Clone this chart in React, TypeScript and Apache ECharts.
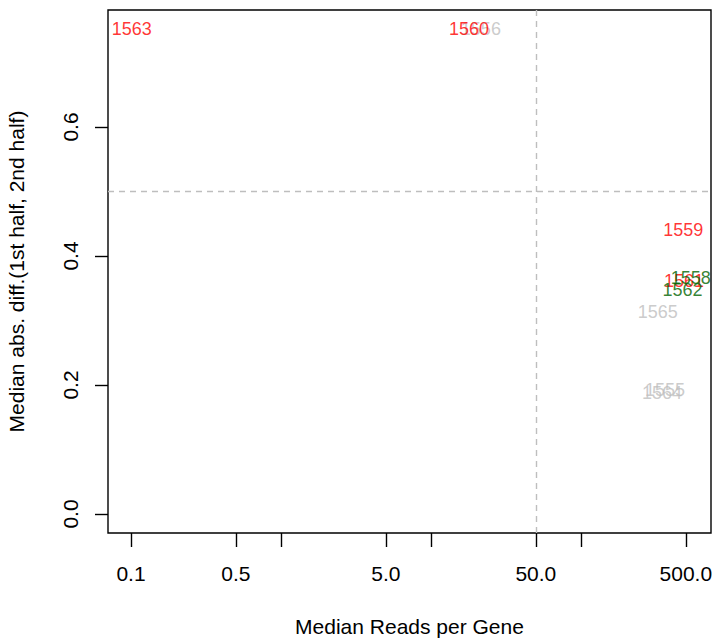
import React, { useEffect, useRef } from "react";
import * as echarts from "echarts";

// Sample ids, in drawing order (grey, then red, then green)
const sampleIds = ["1555", "1556", "1564", "1565", "1559", "1560", "1561", "1563", "1558", "1562"];
// Median reads per gene (x, log scale)
const medianReads = [363, 21.5, 347, 325, 481, 17.9, 486, 0.101, 539, 475];
// Median abs. diff. (1st half, 2nd half)
const medianAbsDiff = [0.192, 0.752, 0.1876, 0.3137, 0.44, 0.752, 0.362, 0.7515, 0.366, 0.347];
// Label colours
const sampleColors = ["#BEBEBE", "#BEBEBE", "#BEBEBE", "#BEBEBE", "#FF0000", "#FF0000", "#FF0000", "#FF0000", "#006400", "#006400"];

const xTickValues = [0.1, 0.5, 1, 5, 10, 50, 100, 500];
const xTickLabels = ["0.1", "0.5", "", "5.0", "", "50.0", "", "500.0"];
const yTickValues = [0, 0.2, 0.4, 0.6];
const yTickLabels = ["0.0", "0.2", "0.4", "0.6"];
const refX = 50;
const refY = 0.5;

const FONT = "'Liberation Sans', Arial, Helvetica, sans-serif";

export default function App() {
  const ref = useRef<HTMLDivElement>(null);
  useEffect(() => {
    if (!ref.current) return;
    const chart = echarts.init(ref.current, undefined, { renderer: "svg" });
    const lg = (v: number) => Math.log10(v);
    const data = sampleIds.map((id, i) => ({
      name: id,
      value: [lg(medianReads[i]), medianAbsDiff[i]],
      label: { color: sampleColors[i] },
    }));
    const xLabelFor = (v: number) => {
      let best = 0;
      let bd = Infinity;
      xTickValues.forEach((t, i) => {
        const d = Math.abs(lg(t) - v);
        if (d < bd) {
          bd = d;
          best = i;
        }
      });
      return xTickLabels[best];
    };
    const yLabelFor = (v: number) => {
      let best = 0;
      let bd = Infinity;
      yTickValues.forEach((t, i) => {
        const d = Math.abs(t - v);
        if (d < bd) {
          bd = d;
          best = i;
        }
      });
      return yTickLabels[best];
    };
    chart.setOption({
      animation: false,
      textStyle: { fontFamily: FONT },
      grid: {
        left: 108,
        right: 4,
        top: 10,
        bottom: 106,
        containLabel: false,
        outerBoundsMode: "none",
        show: true,
        borderColor: "#000",
        borderWidth: 1.4,
        backgroundColor: "transparent",
      },
      xAxis: {
        type: "value",
        min: -1.1533,
        max: 2.8667,
        name: "Median Reads per Gene",
        nameLocation: "middle",
        nameGap: 83,
        nameTextStyle: { fontSize: 21, color: "#000", fontFamily: FONT },
        axisLine: { show: false, onZero: false },
        splitLine: { show: false },
        axisTick: {
          show: true,
          length: 14,
          customValues: xTickValues.map(lg),
          lineStyle: { color: "#000", width: 1.4 },
        },
        axisLabel: {
          show: true,
          customValues: xTickValues.filter((_, i) => xTickLabels[i] !== "").map(lg),
          formatter: (v: number) => xLabelFor(v),
          margin: 30,
          fontSize: 21,
          color: "#000",
          fontFamily: FONT,
        },
      },
      yAxis: {
        type: "value",
        min: -0.02946,
        max: 0.7814,
        name: "Median abs. diff.(1st half, 2nd half)",
        nameLocation: "middle",
        nameGap: 81,
        nameRotate: 90,
        nameTextStyle: { fontSize: 21, color: "#000", fontFamily: FONT },
        axisLine: { show: false, onZero: false },
        splitLine: { show: false },
        axisTick: {
          show: true,
          length: 13,
          customValues: yTickValues,
          lineStyle: { color: "#000", width: 1.4 },
        },
        axisLabel: {
          show: true,
          customValues: yTickValues,
          formatter: (v: number) => yLabelFor(v),
          rotate: 90,
          margin: 27,
          fontSize: 21,
          color: "#000",
          fontFamily: FONT,
        },
      },
      series: [
        {
          type: "scatter",
          silent: true,
          symbol: "circle",
          symbolSize: 0.1,
          itemStyle: { color: "transparent" },
          label: {
            show: true,
            position: "inside",
            formatter: (p: any) => p.name,
            fontSize: 18,
            fontFamily: FONT,
            align: "center",
            verticalAlign: "middle",
          },
          emphasis: { disabled: true },
          data,
          markLine: {
            silent: true,
            symbol: "none",
            label: { show: false },
            lineStyle: { color: "#BEBEBE", width: 1.4, type: [6, 5] },
            data: [{ xAxis: lg(refX) }, { yAxis: refY }],
          },
        },
      ],
    });
    return () => chart.dispose();
  }, []);
  return <div ref={ref} style={{ width: 715, height: 639, position: "absolute", left: 0, top: 0 }} />;
}
